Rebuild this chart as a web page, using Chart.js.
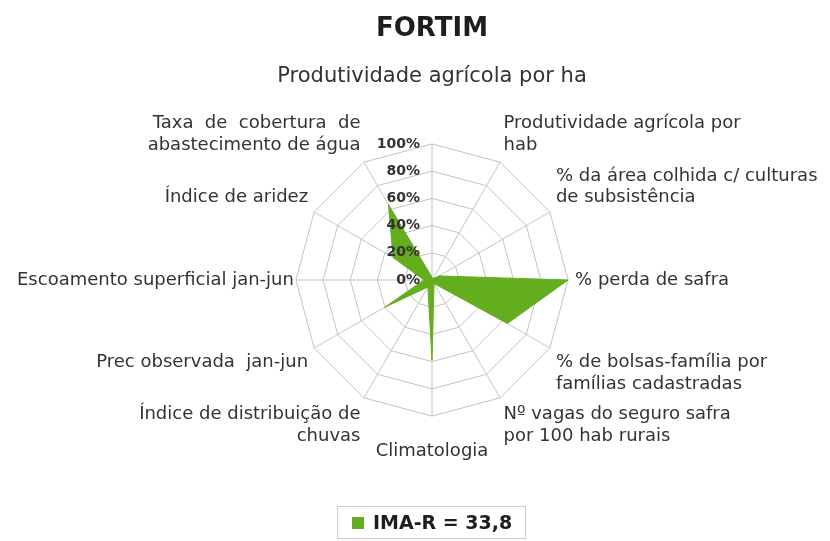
<!DOCTYPE html>
<html>
<head>
<meta charset="utf-8">
<script src="https://cdn.jsdelivr.net/npm/chart.js@4.4.0/dist/chart.umd.min.js"></script>
<style>
  html, body { margin: 0; padding: 0; background: #fff; }
  #wrap { width: 830px; height: 541px; }
</style>
</head>
<body>
<div id="wrap"><canvas id="radar"></canvas></div>
<script>
// --- Data ---
const categories = [
    'Produtividade agrícola por ha',
    ['Produtividade agrícola por', 'hab'],
    ['% da área colhida c/ culturas', 'de subsistência'],
    '% perda de safra',
    ['% de bolsas-família por', 'famílias cadastradas'],
    ['Nº vagas do seguro safra', 'por 100 hab rurais'],
    'Climatologia',
    ['Índice de distribuição de', 'chuvas'],
    'Prec observada  jan-jun',
    'Escoamento superficial jan-jun',
    'Índice de aridez',
    ['Taxa  de  cobertura  de', 'abastecimento de água']
];
const imaValues = [2, 1, 6, 100, 64, 3, 59, 6, 40, 6, 33, 64];
const seriesName = 'IMA-R = 33,8';
const chartTitle = 'FORTIM';
const tickValues = [0, 20, 40, 60, 80, 100];

const green = '#64ad1f';
const gridColor = '#c4c4c4';
const FONT = 'DejaVu Sans';

// title + legend are centred on the radar, not on the canvas
const headerFooterPlugin = {
    id: 'headerFooter',
    afterDraw(chart) {
        const r = chart.scales.r;
        const ctx = chart.ctx;
        const cx = r.xCenter;
        ctx.save();
        // title
        ctx.font = 'bold 26px ' + FONT;
        ctx.fillStyle = '#1e1e1e';
        ctx.textAlign = 'center';
        ctx.textBaseline = 'alphabetic';
        ctx.fillText(chartTitle, cx, 36);

        // legend: square + label inside a thin frame
        ctx.font = 'bold 19px ' + FONT;
        const tw = ctx.measureText(seriesName).width;
        const total = 12 + 9 + tw;
        const x0 = Math.round(cx - total / 2);
        ctx.strokeStyle = '#cccccc';
        ctx.lineWidth = 1;
        ctx.strokeRect(x0 - 14.5, 506.5, Math.round(total + 28), 32);
        ctx.fillStyle = green;
        ctx.fillRect(x0, 517, 12, 12);
        ctx.fillStyle = '#1e1e1e';
        ctx.textAlign = 'left';
        ctx.fillText(seriesName, x0 + 21, 529);

        // tick labels right-aligned just left of the vertical axis
        ctx.font = 'bold 14px ' + FONT;
        ctx.fillStyle = '#333';
        ctx.textAlign = 'right';
        ctx.textBaseline = 'middle';
        tickValues.forEach(v => {
            const d = r.getDistanceFromCenterForValue(v);
            ctx.fillText(v + '%', cx - 12, r.yCenter - d);
        });
        ctx.restore();
    }
};

new Chart(document.getElementById('radar'), {
    type: 'radar',
    data: {
        labels: categories,
        datasets: [{
            label: seriesName,
            data: imaValues,
            backgroundColor: green,
            borderColor: green,
            borderWidth: 1,
            pointRadius: 0,
            fill: true
        }]
    },
    options: {
        responsive: true,
        maintainAspectRatio: false,
        animation: false,
        layout: { padding: { left: 0, right: 0, top: 42, bottom: 57 } },
        plugins: {
            title: { display: false },
            legend: { display: false },
            tooltip: { enabled: false }
        },
        scales: {
            r: {
                min: 0,
                max: 100,
                ticks: { stepSize: 20, display: false },
                grid: { color: gridColor, lineWidth: 1, circular: false },
                angleLines: { color: gridColor, lineWidth: 1 },
                pointLabels: {
                    color: '#333',
                    font: ctx => ({ family: FONT, size: ctx.index === 0 ? 21 : 18 }),
                    padding: ctx => {
                        if (ctx.index === 0) return 55;
                        if (ctx.index === 6) return 24;
                        if (ctx.index === 9) return 2;
                        return 7;
                    }
                }
            }
        }
    },
    plugins: [headerFooterPlugin]
});
</script>
</body>
</html>
